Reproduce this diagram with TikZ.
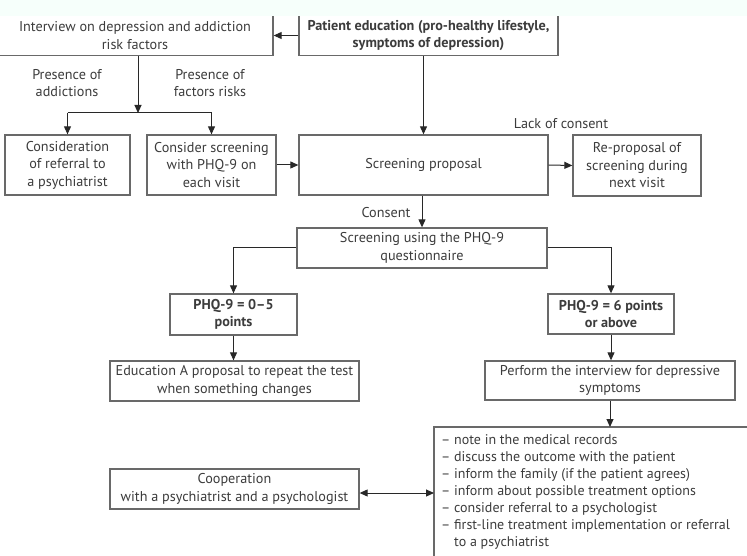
\documentclass[tikz,border=0pt]{standalone}
\usepackage{fontspec}
\setmainfont{PT Sans}
\usetikzlibrary{arrows.meta}
\definecolor{txt}{RGB}{60,60,60}
\definecolor{edge}{RGB}{105,105,105}
\definecolor{arr}{RGB}{40,40,40}
\definecolor{strip}{RGB}{246,255,251}
\begin{document}
\begin{tikzpicture}[x=1pt,y=-1pt,
  box/.style={draw=edge,line width=1.3pt,align=center,text=txt,inner sep=0pt,
    font=\fontsize{14.2}{17.5}\selectfont},
  bbox/.style={box,font=\fontsize{14.2}{17.5}\selectfont\bfseries},
  lbl/.style={align=center,text=txt,inner sep=0pt,font=\fontsize{14.2}{17.5}\selectfont},
  conn/.style={draw=arr,line width=1pt},
  arrw/.style={conn,-{Triangle[length=8pt,width=7pt]}},
  darrw/.style={conn,{Triangle[length=8pt,width=7pt]}-{Triangle[length=8pt,width=7pt]}}]
\useasboundingbox (0,0) rectangle (747,556);
\fill[white] (0,0) rectangle (747,556);
\fill[strip] (0,0) rectangle (747,16.5);
\begin{scope}
\clip (0,16.5) rectangle (747,556);
% top row
\node[box,minimum width=276pt,minimum height=40pt] (int) at (135,35.5)
  {Interview on depression and addiction\\risk factors};
\node[bbox,minimum width=259pt,minimum height=40pt] (pe) at (428.5,35.5)
  {Patient education (pro-healthy lifestyle,\\symptoms of depression)};
% second row
\node[box,minimum width=125pt,minimum height=60pt] (c1) at (67.5,165)
  {Consideration\\of referral to\\a psychiatrist};
\node[box,minimum width=129pt,minimum height=60pt] (c2) at (211.5,165)
  {Consider screening\\with PHQ-9 on\\each visit};
\node[box,minimum width=249pt,minimum height=60pt] (sp) at (423.5,165)
  {Screening proposal};
\node[box,minimum width=128pt,minimum height=61pt] (rp) at (637,165.5)
  {Re-proposal of\\screening during\\next visit};
% screening
\node[box,minimum width=250pt,minimum height=40pt] (su) at (422,248)
  {Screening using the PHQ-9\\questionnaire};
\node[bbox,minimum width=127pt,minimum height=41pt] (p1) at (233.5,314.5)
  {PHQ-9 = 0–5\\points};
\node[bbox,minimum width=126pt,minimum height=40pt] (p2) at (611,314)
  {PHQ-9 = 6 points\\or above};
\node[box,minimum width=249pt,minimum height=40pt] (ed) at (234.5,381)
  {Education A proposal to repeat the test\\when something changes};
\node[box,minimum width=250pt,minimum height=39pt] (pf) at (610,380.5)
  {Perform the interview for depressive\\symptoms};
\node[box,minimum width=249pt,minimum height=40pt] (co) at (234.5,489)
  {Cooperation\\with a psychiatrist and a psychologist};
% big open box (continues beyond the right and bottom edges)
\coordinate (bigtl) at (434,427);
\coordinate (bigw) at (434,493);
\draw[draw=edge,line width=1.3pt] (760,427) -- (bigtl) -- (434,570);
\node[lbl,align=left,anchor=north west,font=\fontsize{14}{17}\selectfont]
  (big) at (441,434)
  {– note in the medical records\\
   – discuss the outcome with the patient\\
   – inform the family (if the patient agrees)\\
   – inform about possible treatment options\\
   – consider referral to a psychologist\\
   – first-line treatment implementation or referral\\
   \phantom{– }to a psychiatrist};
% labels
\node[lbl] (l1) at (67,83) {Presence of\\addictions};
\node[lbl] (l2) at (210,83) {Presence of\\factors risks};
\node[lbl] (l3) at (561,124) {Lack of consent};
\node[lbl] (l4) at (386,213) {Consent};
% connectors
\coordinate (j1) at (138,113);
\draw[arrw] (pe.west) -- (int.east);
\draw[arrw] (int.south -| j1) -- (j1);
\draw[conn] (c1.north |- j1) -- (c2.north |- j1);
\draw[arrw] (c1.north |- j1) -- (c1.north);
\draw[arrw] (c2.north |- j1) -- (c2.north);
\draw[arrw] (c2.east) -- (sp.west);
\draw[arrw] (pe.south -| sp.north) -- (sp.north);
\draw[arrw] (sp.east) -- (rp.west);
\draw[arrw] (sp.south -| su.north) -- (su.north);
\draw[arrw] (su.west) -| (p1.north);
\draw[arrw] (su.east) -| (p2.north);
\draw[arrw] (p1.south) -- (ed.north -| p1.south);
\draw[arrw] (p2.south) -- (pf.north -| p2.south);
\draw[arrw] (pf.south) -- (pf.south |- bigtl);
\draw[darrw] (bigw -| co.east) -- (bigw);
\end{scope}
\end{tikzpicture}
\end{document}
